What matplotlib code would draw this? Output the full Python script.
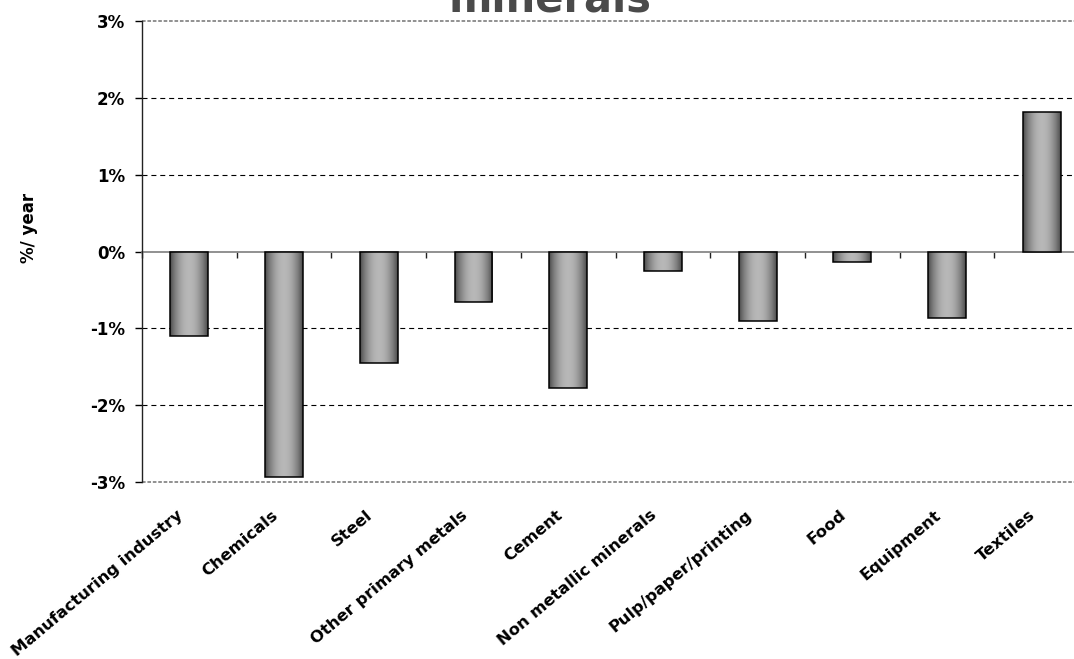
import numpy as np
import matplotlib
matplotlib.use("Agg")
import matplotlib.pyplot as plt
from matplotlib import transforms

plt.rcParams['font.family'] = ['DejaVu Sans']
plt.rcParams['font.weight'] = 'bold'

sectors = ['Manufacturing industry', 'Chemicals', 'Steel', 'Other primary metals',
           'Cement', 'Non metallic minerals', 'Pulp/paper/printing', 'Food',
           'Equipment', 'Textiles']
change = [-1.10, -2.94, -1.45, -0.66, -1.78, -0.25, -0.91, -0.14, -0.86, 1.81]
yticks = [-3, -2, -1, 0, 1, 2, 3]

fig = plt.figure(figsize=(10.74, 6.59), dpi=100)
ax = fig.add_axes([0.1322, 0.2686, 0.8818, 0.6995])

x = np.arange(len(sectors))
bars = ax.bar(x, change, width=0.4, color='none', edgecolor='black',
              linewidth=1.1, zorder=4)

# cylinder-like shading inside each bar
t = np.linspace(0, 1, 64)
shade = 0.28 + 0.44 * np.sin(np.pi * t) ** 0.8
grad = np.tile(shade, (2, 1))
for b in bars:
    x0, y0 = b.get_x(), b.get_y()
    w, h = b.get_width(), b.get_height()
    im = ax.imshow(grad, cmap='gray', vmin=0, vmax=1, aspect='auto',
                   extent=(x0, x0 + w, min(y0, y0 + h), max(y0, y0 + h)),
                   interpolation='bilinear', zorder=3)
    im.set_clip_path(b)

ax.set_xlim(-0.5, len(sectors) - 0.5)
ax.set_ylim(-3, 3)
ax.set_yticks(yticks)
ax.set_yticklabels(['%d%%' % v for v in yticks], fontsize=12, fontweight='bold')
ax.tick_params(axis='y', direction='out', length=5, width=1, pad=7)

# grid
ax.yaxis.grid(True, linestyle=(0, (4.5, 3.5)), color='black', linewidth=0.8)
ax.set_axisbelow(True)
for v, gl in zip(yticks, ax.yaxis.get_gridlines()):
    if v == 0:
        gl.set_visible(False)
    elif abs(v) == 3:
        gl.set_color('#888888')
        gl.set_linewidth(1.3)
        gl.set_linestyle((0, (2, 1)))
        gl.set_clip_on(False)

for s in ['top', 'right']:
    ax.spines[s].set_visible(False)
ax.spines['left'].set_color('#222222')
ax.spines['left'].set_linewidth(1.0)
ax.spines['bottom'].set_position(('data', 0))
ax.spines['bottom'].set_color('#888888')
ax.spines['bottom'].set_linewidth(1.3)
ax.spines['bottom'].set_zorder(2)

# category boundary ticks on the zero line
ax.set_xticks(x)
ax.set_xticklabels([])
ax.tick_params(axis='x', which='major', length=0)
ax.set_xticks(np.arange(len(sectors) + 1) - 0.5, minor=True)
ax.tick_params(axis='x', which='minor', direction='out', length=4, width=1,
               color='#222222')

# category names below the plot area
trans = transforms.blended_transform_factory(ax.transData, ax.transAxes)
offset = transforms.ScaledTranslation(-0.08, -0.31, fig.dpi_scale_trans)
for i, name in enumerate(sectors):
    ax.text(i, 0, name, transform=trans + offset, rotation=40,
            rotation_mode='anchor', ha='right', va='center',
            fontsize=11.8, fontweight='bold')

ax.set_ylabel('%/ year', fontsize=12, fontweight='bold')
ax.yaxis.set_label_coords(-0.110, 0.551)

fig.text(0.512, 1 - 12 / 659, 'minerals', ha='center', va='baseline',
         fontsize=30, fontweight='bold', color='#4a4a4a')

fig.savefig('out.png', dpi=100)
